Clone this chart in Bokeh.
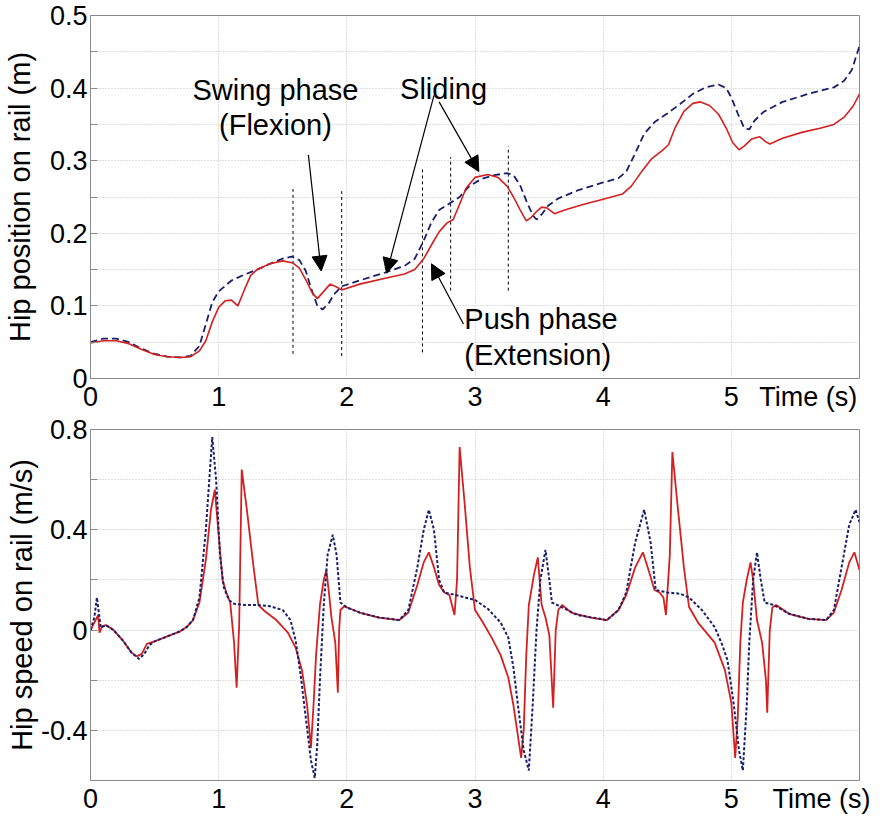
from bokeh.plotting import figure
from bokeh.layouts import column
from bokeh.models import (Arrow, NormalHead, FixedTicker, ColumnDataSource,
                          CustomJSTickFormatter)
from bokeh.core.properties import value
from bokeh.embed import file_html
from bokeh.resources import INLINE

FONT = "Liberation Sans"

# ---------------- data: hip position (top) ----------------
pos_t_red = [0, 0.1, 0.2, 0.3, 0.4, 0.5, 0.6, 0.7, 0.78, 0.85, 0.9, 0.95, 1.0, 1.05, 1.1, 1.15,
             1.2, 1.25, 1.3, 1.4, 1.5, 1.58, 1.63, 1.68, 1.73, 1.77, 1.82, 1.87, 1.92, 1.96,
             2.1, 2.3, 2.45, 2.53, 2.6, 2.67, 2.72, 2.78, 2.83, 2.88, 2.93, 3.0, 3.1, 3.18,
             3.25, 3.3, 3.35, 3.4, 3.44, 3.48, 3.52, 3.56, 3.62, 3.7, 3.85, 4.0, 4.15, 4.22,
             4.3, 4.38, 4.46, 4.51, 4.56, 4.63, 4.7, 4.76, 4.83, 4.9, 4.96, 5.01, 5.06, 5.1,
             5.16, 5.22, 5.27, 5.3, 5.4, 5.55, 5.7, 5.8, 5.88, 5.95, 6.0]
pos_red = [0.049, 0.052, 0.052, 0.048, 0.040, 0.033, 0.030, 0.029, 0.030, 0.038, 0.052, 0.078,
           0.098, 0.107, 0.108, 0.100, 0.122, 0.142, 0.150, 0.158, 0.162, 0.159, 0.152, 0.136,
           0.118, 0.110, 0.120, 0.130, 0.126, 0.122, 0.130, 0.138, 0.144, 0.150, 0.165, 0.187,
           0.202, 0.214, 0.219, 0.240, 0.262, 0.277, 0.281, 0.277, 0.265, 0.250, 0.233, 0.217,
           0.222, 0.230, 0.236, 0.235, 0.227, 0.232, 0.240, 0.247, 0.254, 0.265, 0.285, 0.303,
           0.314, 0.322, 0.345, 0.368, 0.379, 0.381, 0.376, 0.364, 0.345, 0.325, 0.315, 0.320,
           0.330, 0.333, 0.326, 0.323, 0.331, 0.339, 0.345, 0.350, 0.360, 0.375, 0.392]

pos_t_blue = [0, 0.1, 0.2, 0.3, 0.4, 0.5, 0.6, 0.7, 0.78, 0.85, 0.9, 0.95, 1.0, 1.1, 1.2, 1.3,
              1.4, 1.5, 1.57, 1.63, 1.68, 1.72, 1.77, 1.81, 1.86, 1.9, 1.96, 2.1, 2.3, 2.45,
              2.53, 2.6, 2.66, 2.72, 2.8, 2.88, 2.95, 3.05, 3.15, 3.25, 3.3, 3.35, 3.4, 3.45,
              3.48, 3.52, 3.57, 3.65, 3.8, 4.0, 4.12, 4.18, 4.25, 4.32, 4.4, 4.5, 4.6, 4.7,
              4.8, 4.9, 4.96, 5.0, 5.05, 5.1, 5.14, 5.18, 5.25, 5.4, 5.6, 5.8, 5.88, 5.94, 6.0]
pos_blue = [0.050, 0.055, 0.055, 0.050, 0.041, 0.034, 0.030, 0.029, 0.031, 0.045, 0.075, 0.105,
            0.120, 0.135, 0.143, 0.150, 0.158, 0.165, 0.168, 0.163, 0.148, 0.125, 0.100, 0.095,
            0.104, 0.116, 0.127, 0.135, 0.146, 0.155, 0.165, 0.190, 0.215, 0.232, 0.241, 0.250,
            0.264, 0.275, 0.280, 0.283, 0.280, 0.267, 0.245, 0.225, 0.219, 0.226, 0.238, 0.248,
            0.259, 0.270, 0.276, 0.285, 0.310, 0.337, 0.353, 0.365, 0.378, 0.392, 0.401, 0.405,
            0.400, 0.387, 0.365, 0.345, 0.343, 0.355, 0.367, 0.381, 0.392, 0.401, 0.410, 0.425,
            0.458]

# ---------------- data: hip speed (bottom) ----------------
spd_t_red = [0, 0.03, 0.06, 0.07, 0.09, 0.12, 0.18, 0.25, 0.32, 0.36, 0.4, 0.44, 0.5, 0.6, 0.7,
             0.75, 0.8, 0.85, 0.9, 0.94, 0.97, 1.0, 1.03, 1.06, 1.09, 1.12, 1.14, 1.16, 1.18,
             1.22, 1.27, 1.31, 1.36, 1.45, 1.54, 1.6, 1.65, 1.69, 1.72, 1.74, 1.76, 1.79, 1.82,
             1.84, 1.86, 1.88, 1.91, 1.93, 1.94, 1.95, 1.98, 2.1, 2.25, 2.41, 2.48, 2.55, 2.6,
             2.64, 2.68, 2.72, 2.76, 2.8, 2.84, 2.86, 2.88, 2.92, 2.96, 3.0, 3.05, 3.13, 3.2,
             3.26, 3.3, 3.36, 3.38, 3.4, 3.42, 3.46, 3.49, 3.52, 3.55, 3.58, 3.61, 3.63, 3.65,
             3.68, 3.75, 3.9, 4.03, 4.12, 4.18, 4.25, 4.31, 4.36, 4.4, 4.44, 4.47, 4.49, 4.52,
             4.54, 4.58, 4.63, 4.67, 4.74, 4.87, 4.95, 5.0, 5.03, 5.05, 5.07, 5.09, 5.12, 5.15,
             5.17, 5.2, 5.24, 5.27, 5.28, 5.3, 5.32, 5.35, 5.45, 5.6, 5.74, 5.8, 5.86, 5.92,
             5.96, 6.0]
spd_red = [0.0, 0.03, 0.06, -0.01, 0.015, 0.02, 0.0, -0.04, -0.09, -0.105, -0.095, -0.055,
           -0.045, -0.025, -0.005, 0.012, 0.04, 0.11, 0.28, 0.48, 0.56, 0.38, 0.2, 0.15, 0.11,
           -0.05, -0.23, 0.02, 0.64, 0.48, 0.26, 0.1, 0.075, 0.04, -0.01, -0.07, -0.16, -0.3,
           -0.47, -0.3, -0.1, 0.1, 0.2, 0.24, 0.15, 0.05, -0.05, -0.25, 0.0, 0.08, 0.095, 0.07,
           0.05, 0.04, 0.07, 0.18, 0.27, 0.31, 0.25, 0.18, 0.15, 0.14, 0.06, 0.2, 0.73, 0.5,
           0.25, 0.08, 0.04, -0.03, -0.1, -0.19, -0.3, -0.51, -0.4, -0.1, 0.1, 0.22, 0.29, 0.1,
           0.05, -0.02, -0.31, 0.0, 0.08, 0.1, 0.07, 0.05, 0.04, 0.08, 0.14, 0.25, 0.31, 0.23,
           0.16, 0.15, 0.13, 0.06, 0.3, 0.71, 0.5, 0.25, 0.092, 0.03, -0.05, -0.16, -0.29, -0.51,
           -0.35, -0.05, 0.11, 0.2, 0.27, 0.2, 0.04, -0.05, -0.2, -0.33, 0.0, 0.09, 0.1, 0.065,
           0.045, 0.04, 0.07, 0.16, 0.27, 0.31, 0.24]

spd_t_blue = [0, 0.03, 0.05, 0.07, 0.08, 0.12, 0.18, 0.25, 0.32, 0.38, 0.42, 0.46, 0.5, 0.6,
              0.7, 0.75, 0.8, 0.85, 0.9, 0.95, 0.98, 1.01, 1.04, 1.08, 1.12, 1.2, 1.3, 1.4, 1.5,
              1.56, 1.6, 1.64, 1.68, 1.72, 1.75, 1.77, 1.79, 1.82, 1.85, 1.89, 1.92, 1.95, 2.0,
              2.1, 2.25, 2.41, 2.48, 2.55, 2.6, 2.64, 2.68, 2.72, 2.76, 2.85, 3.0, 3.1, 3.2,
              3.26, 3.3, 3.34, 3.38, 3.42, 3.45, 3.48, 3.51, 3.55, 3.58, 3.6, 3.67, 3.8, 4.03,
              4.12, 4.18, 4.25, 4.32, 4.37, 4.41, 4.5, 4.6, 4.67, 4.77, 4.87, 4.93, 4.97, 5.02,
              5.06, 5.09, 5.12, 5.14, 5.17, 5.2, 5.23, 5.26, 5.33, 5.45, 5.6, 5.74, 5.8, 5.86,
              5.92, 5.97, 6.0]
spd_blue = [0.0, 0.05, 0.13, 0.05, 0.01, 0.02, 0.0, -0.04, -0.09, -0.115, -0.095, -0.06, -0.045,
            -0.025, -0.005, 0.012, 0.04, 0.13, 0.4, 0.77, 0.6, 0.3, 0.17, 0.12, 0.105, 0.1, 0.1,
            0.095, 0.08, 0.04, -0.04, -0.18, -0.35, -0.52, -0.59, -0.45, -0.2, 0.1, 0.3, 0.38,
            0.3, 0.11, 0.09, 0.07, 0.05, 0.04, 0.08, 0.25, 0.4, 0.48, 0.4, 0.2, 0.15, 0.14, 0.12,
            0.085, 0.03, -0.03, -0.15, -0.32, -0.48, -0.56, -0.3, 0.0, 0.2, 0.32, 0.2, 0.11,
            0.093, 0.06, 0.04, 0.08, 0.15, 0.35, 0.48, 0.35, 0.16, 0.15, 0.145, 0.13, 0.08, 0.012,
            -0.06, -0.12, -0.3, -0.48, -0.56, -0.3, -0.05, 0.2, 0.31, 0.2, 0.11, 0.1, 0.065,
            0.045, 0.04, 0.08, 0.25, 0.42, 0.48, 0.43]

# ---------------- annotations (top plot, data units) ----------------
phase_x = [1.58, 1.96, 2.59, 2.81, 3.26]
phase_y_top = [0.261, 0.258, 0.29, 0.305, 0.32]
phase_y_bot = [0.034, 0.031, 0.036, 0.121, 0.121]

note_text = ["Swing phase", "(Flexion)", "Sliding"]
note_x = [1.443, 1.443, 2.755]
note_y = [0.397, 0.349, 0.399]
push_text = ["Push phase", "(Extension)"]
push_x = [2.917, 2.917]
push_y = [0.082, 0.032]

arrow_x0 = [1.70, 2.68, 2.72, 2.91]
arrow_y0 = [0.308, 0.390, 0.381, 0.075]
arrow_x1 = [1.80, 2.31, 3.03, 2.66]
arrow_y1 = [0.148, 0.145, 0.285, 0.158]

pos_yticks = [0, 0.1, 0.2, 0.3, 0.4, 0.5]
pos_yminor = [0.05, 0.15, 0.25, 0.35, 0.45]
pos_ygrid = [0.05, 0.1, 0.15, 0.2, 0.25, 0.3, 0.35, 0.4, 0.45]
spd_yticks = [-0.4, 0, 0.4, 0.8]
spd_yminor = [-0.2, 0.2, 0.6]
spd_ygrid = [-0.4, -0.2, 0, 0.2, 0.4, 0.6]
time_ticks = [0, 1, 2, 3, 4, 5]
time_grid = [1, 2, 3, 4, 5]
time_title = "Time (s)"
time_title_x_top = 5.6
time_title_x_bot = 5.71

RED = "#d42020"
BLUE = "#1a1f6b"
AXC = "#8a8a8a"
GRIDC = "#bdbdbd"

yfmt = CustomJSTickFormatter(code="""
const v = Math.round(tick * 10) / 10;
return (Math.abs(v) < 1e-9) ? '0' : String(v);
""")


def xfmt(title):
    return CustomJSTickFormatter(args=dict(title=title), code="""
return (Math.abs(tick - Math.round(tick)) > 1e-6) ? title : String(Math.round(tick));
""")


def style(p, yticks, yminor, ygrid, ylabel, title_x, label_standoff):
    p.xaxis.ticker = FixedTicker(ticks=time_ticks + [title_x])
    p.xaxis.formatter = xfmt(time_title)
    p.yaxis.ticker = FixedTicker(ticks=yticks, minor_ticks=yminor)
    p.yaxis.formatter = yfmt
    p.xgrid.ticker = FixedTicker(ticks=time_grid)
    p.ygrid.ticker = FixedTicker(ticks=ygrid)
    for g in (p.xgrid, p.ygrid):
        g.grid_line_color = GRIDC
        g.grid_line_dash = "1 2"
        g.grid_line_width = 1
    for ax in (p.xaxis, p.yaxis):
        ax.axis_line_color = AXC
        ax.major_tick_line_color = AXC
        ax.minor_tick_line_color = AXC
        ax.major_tick_in = 7
        ax.major_tick_out = 0
        ax.minor_tick_in = 7
        ax.minor_tick_out = 0
        ax.major_label_text_font = FONT
        ax.major_label_text_font_size = "27px"
        ax.major_label_text_color = "black"
        ax.major_label_standoff = 3
        ax.axis_label_text_font = FONT
        ax.axis_label_text_font_size = "29px"
        ax.axis_label_text_font_style = "normal"
        ax.axis_label_text_color = "black"
    p.xaxis.major_tick_in = 0
    p.xaxis.minor_tick_line_color = None
    p.yaxis.axis_label = ylabel
    p.yaxis.axis_label_standoff = label_standoff
    p.outline_line_color = AXC
    p.background_fill_color = "white"
    p.border_fill_color = "white"


# ---------------- top figure ----------------
p1 = figure(width=870, height=414, x_range=(0, 6), y_range=(0, 0.5),
            output_backend="svg", toolbar_location=None,
            min_border_left=82, min_border_right=10, min_border_top=15, min_border_bottom=30)
style(p1, pos_yticks, pos_yminor, pos_ygrid, "Hip position on rail (m)", time_title_x_top, 11)

p1.segment(x0=phase_x, y0=phase_y_bot, x1=phase_x, y1=phase_y_top,
           line_color="black", line_dash="3 3", line_width=1)
p1.line(pos_t_blue, pos_blue, line_color=BLUE, line_width=1.8, line_dash="7 4")
p1.line(pos_t_red, pos_red, line_color=RED, line_width=1.6)

for i in range(len(arrow_x0)):
    p1.add_layout(Arrow(end=NormalHead(size=15, fill_color="black", line_color="black"),
                        x_start=arrow_x0[i], y_start=arrow_y0[i],
                        x_end=arrow_x1[i], y_end=arrow_y1[i],
                        line_color="black", line_width=1.2))

src_notes = ColumnDataSource(dict(x=note_x, y=note_y, text=note_text))
p1.text(x="x", y="y", text="text", source=src_notes, text_align="center",
        text_baseline="middle", text_font=value(FONT), text_font_size="29px",
        text_color="black")
src_push = ColumnDataSource(dict(x=push_x, y=push_y, text=push_text))
p1.text(x="x", y="y", text="text", source=src_push, text_align="left",
        text_baseline="middle", text_font=value(FONT), text_font_size="29px",
        text_color="black")

# ---------------- bottom figure ----------------
p2 = figure(width=870, height=402, x_range=(0, 6), y_range=(-0.6, 0.8),
            output_backend="svg", toolbar_location=None,
            min_border_left=80, min_border_right=11, min_border_top=15, min_border_bottom=30)
style(p2, spd_yticks, spd_yminor, spd_ygrid, "Hip speed on rail (m/s)", time_title_x_bot, 0)

p2.line(spd_t_red, spd_red, line_color=RED, line_width=1.8)
p2.line(spd_t_blue, spd_blue, line_color=BLUE, line_width=2.0, line_dash="3 2")

layout = column(p1, p2, spacing=0)
open("out.html", "w").write(file_html(layout, INLINE))
